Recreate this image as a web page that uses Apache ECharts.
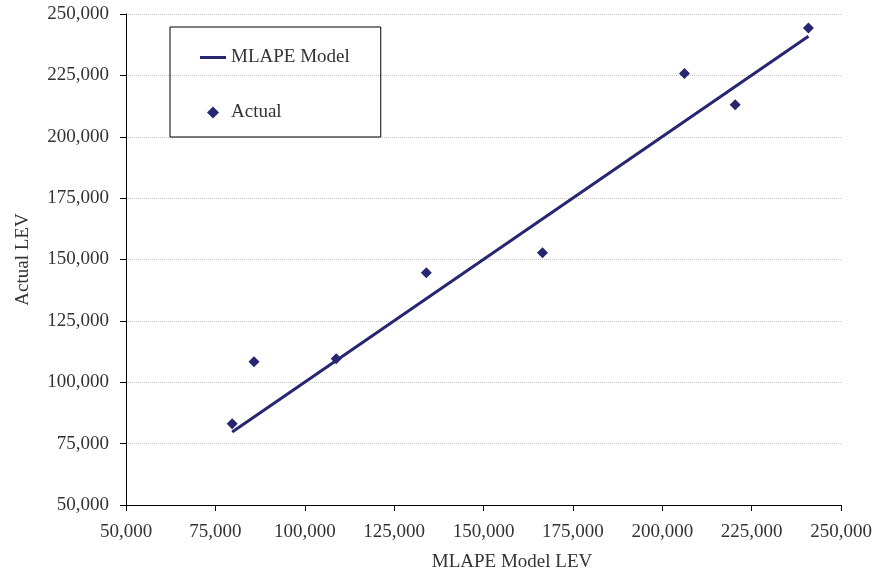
<!DOCTYPE html>
<html><head><meta charset="utf-8">
<script src="https://cdn.jsdelivr.net/npm/echarts@6/dist/echarts.min.js"></script>
<style>html,body{margin:0;padding:0;background:#fff}#c{width:879px;height:571px}</style>
</head><body><div id="c"></div>
<script>
const modelLEV = [79700, 85800, 108800, 134000, 166500, 206200, 220400, 240900];
const actualLEV = [83100, 108300, 109600, 144600, 152800, 225800, 213000, 244300];
const lineX = [79700, 240900];
const seriesNames = ['MLAPE Model', 'Actual'];
const axisTitles = { x: 'MLAPE Model LEV', y: 'Actual LEV' };

const navy = '#262672';
const font = 'Liberation Serif';
const chart = echarts.init(document.getElementById('c'));
chart.setOption({
  animation: false,
  backgroundColor: '#fff',
  textStyle: { fontFamily: font },
  grid: { left: 126, right: 38, top: 14, bottom: 66, containLabel: false, outerBoundsMode: 'none' },
  legend: {
    orient: 'vertical', left: 170, top: 27,
    padding: [21, 31, 15, 30], itemGap: 36,
    itemWidth: 26, itemHeight: 12,
    borderColor: '#000', borderWidth: 1,
    textStyle: { fontFamily: font, fontSize: 19, color: '#333' },
    data: [
      { name: seriesNames[0], icon: 'path://M0,0 H26 V3 H0 Z' },
      { name: seriesNames[1], icon: 'path://M5,0 L10,5 L5,10 L0,5 Z' }
    ]
  },
  xAxis: {
    type: 'value', min: 50000, max: 250000, interval: 25000,
    name: axisTitles.x, nameLocation: 'middle', nameGap: 48,
    nameTextStyle: { fontFamily: font, fontSize: 19, color: '#333', padding: [0, 0, 0, 57] },
    axisLine: { show: true, lineStyle: { color: '#000', width: 1 } },
    axisTick: { show: true, length: 6, lineStyle: { color: '#000' } },
    axisLabel: { fontFamily: font, fontSize: 19, color: '#333', margin: 18,
      formatter: v => v.toLocaleString('en-US') },
    splitLine: { show: false }
  },
  yAxis: {
    type: 'value', min: 50000, max: 250000, interval: 25000,
    name: axisTitles.y, nameLocation: 'middle', nameGap: 93, nameRotate: 90,
    nameTextStyle: { fontFamily: font, fontSize: 19, color: '#333' },
    axisLine: { show: true, lineStyle: { color: '#000', width: 1 } },
    axisTick: { show: true, length: 6, lineStyle: { color: '#000' } },
    axisLabel: { fontFamily: font, fontSize: 19, color: '#333', margin: 17,
      formatter: v => v.toLocaleString('en-US') },
    splitLine: { show: true, lineStyle: { color: '#c4c4c4', type: 'dotted', width: 1 } }
  },
  series: [
    { name: seriesNames[0], type: 'line', symbol: 'none', z: 2,
      data: lineX.map(v => [v, v]),
      lineStyle: { color: navy, width: 3 }, itemStyle: { color: navy } },
    { name: seriesNames[1], type: 'scatter', symbol: 'diamond', symbolSize: 11, z: 3,
      data: modelLEV.map((v, i) => [v, actualLEV[i]]),
      itemStyle: { color: navy, opacity: 1 } }
  ]
});
</script></body></html>
